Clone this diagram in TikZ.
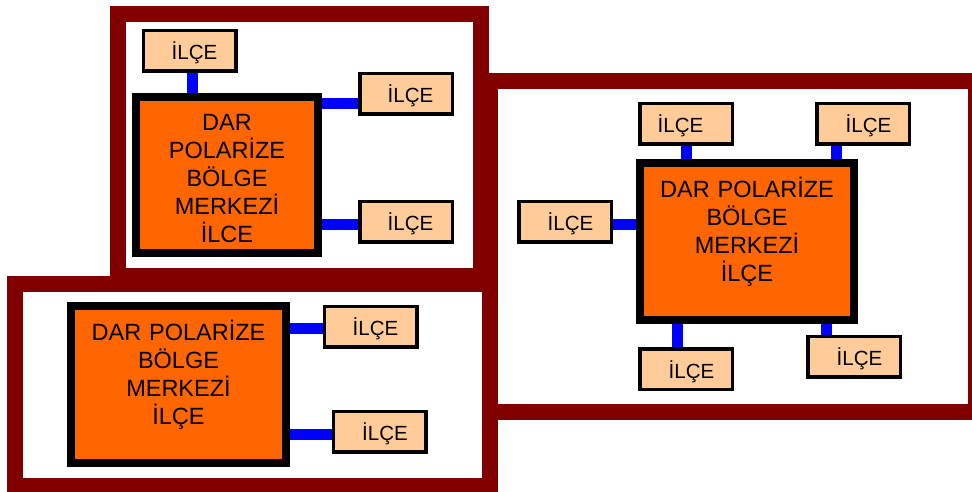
\documentclass[tikz,border=0pt]{standalone}
\usepackage{fontspec}
\setmainfont{Liberation Sans}
\definecolor{frameRed}{HTML}{800000}
\definecolor{bigOrange}{HTML}{FF6600}
\definecolor{peach}{HTML}{FFCC99}
\definecolor{linkBlue}{HTML}{0000FF}
\tikzset{
  frame/.style={draw=frameRed, line width=16pt},
  bigbox/.style={draw=black, fill=bigOrange, line width=8pt, inner sep=0pt},
  bigtext/.style={anchor=base, inner sep=0pt, text width=200pt, align=center, font=\fontsize{23.5}{28}\selectfont},
  ilce/.style={draw=black, fill=peach, line width=3.5pt, minimum width=92.5pt, minimum height=40.5pt, inner sep=0pt, text height=18pt, text depth=0pt, font=\fontsize{20.5}{24}\selectfont},
  conn/.style={draw=linkBlue, line width=11pt}
}
\begin{document}
\begin{tikzpicture}[x=1pt,y=-1pt]
\useasboundingbox (0,0) rectangle (972,492);
\clip (0,0) rectangle (972,492);
% frames
\draw[frame] (118,14) rectangle (481,276);
\draw[frame] (15,284) rectangle (490,486);
\draw[frame] (490,81) rectangle (976,412);
% ---- frame A
\node[bigbox, minimum width=182pt, minimum height=156pt] (bigA) at (227,175) {};
\node[bigtext] (tA) at ([yshift=-38pt]bigA.north) {DAR\\POLARİZE\\BÖLGE\\MERKEZİ\\İLCE};
\node[ilce] (a1) at (189.5,51) {\hspace*{10pt}İLÇE};
\node[ilce] (a2) at (406,94) {\hspace*{9pt}İLÇE};
\node[ilce] (a3) at (406,221.5) {\hspace*{9pt}İLÇE};
\coordinate (pa1) at ([xshift=2.5pt]a1.south);
\coordinate (pa2) at ([yshift=-10pt]a2.west);
\coordinate (pa3) at ([yshift=-2.5pt]a3.west);
\draw[conn] (pa1) -- (pa1 |- bigA.north);
\draw[conn] (pa2) -- (bigA.east |- pa2);
\draw[conn] (pa3) -- (bigA.east |- pa3);
% ---- frame B
\node[bigbox, minimum width=215pt, minimum height=157pt] (bigB) at (178.5,384.5) {};
\node[bigtext] (tB) at ([yshift=-38pt]bigB.north) {DAR POLARİZE\\BÖLGE\\MERKEZİ\\İLÇE};
\node[ilce] (b1) at (370.5,326.5) {\hspace*{10pt}İLÇE};
\node[ilce] (b2) at (379.5,431.5) {\hspace*{11pt}İLÇE};
\coordinate (pb1) at ([yshift=-2pt]b1.west);
\coordinate (pb2) at ([yshift=-2.5pt]b2.west);
\draw[conn] (pb1) -- (bigB.east |- pb1);
\draw[conn] (pb2) -- (bigB.east |- pb2);
% ---- frame C
\node[bigbox, minimum width=214pt, minimum height=157pt] (bigC) at (747,241.5) {};
\node[bigtext] (tC) at ([yshift=-38pt]bigC.north) {DAR POLARİZE\\BÖLGE\\MERKEZİ\\İLÇE};
\node[ilce] (c1) at (686,124) {İLÇE\hspace*{11pt}};
\node[ilce] (c2) at (863,124) {\hspace*{11pt}İLÇE};
\node[ilce] (c3) at (565,221.5) {\hspace*{11pt}İLÇE};
\node[ilce] (c4) at (686,369) {\hspace*{11pt}İLÇE};
\node[ilce] (c5) at (854,356.5) {\hspace*{11pt}İLÇE};
\coordinate (pc1) at ([xshift=0.5pt]c1.south);
\coordinate (pc2) at ([xshift=-26.5pt]c2.south);
\coordinate (pc3) at ([yshift=-2.5pt]c3.east);
\coordinate (pc4) at ([xshift=-8.5pt]c4.north);
\coordinate (pc5) at ([xshift=-27.5pt]c5.north);
\draw[conn] (pc1) -- (pc1 |- bigC.north);
\draw[conn] (pc2) -- (pc2 |- bigC.north);
\draw[conn] (pc3) -- (bigC.west |- pc3);
\draw[conn] (pc4) -- (pc4 |- bigC.south);
\draw[conn] (pc5) -- (pc5 |- bigC.south);
\end{tikzpicture}
\end{document}
